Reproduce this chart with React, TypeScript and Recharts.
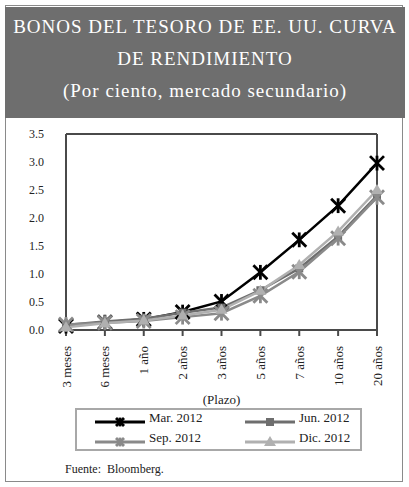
import { LineChart, Line, XAxis, YAxis, ReferenceLine, Legend, Label } from 'recharts'

const terms = ['3 meses', '6 meses', '1 año', '2 años', '3 años', '5 años', '7 años', '10 años', '20 años']
const mar2012 = [0.07, 0.14, 0.19, 0.32, 0.51, 1.03, 1.61, 2.22, 2.98]
const jun2012 = [0.09, 0.15, 0.2, 0.31, 0.4, 0.71, 1.1, 1.67, 2.4]
const sep2012 = [0.1, 0.13, 0.16, 0.23, 0.3, 0.61, 1.04, 1.64, 2.37]
const dic2012 = [0.05, 0.12, 0.17, 0.26, 0.36, 0.7, 1.16, 1.76, 2.5]
const yTicks = [0, 0.5, 1, 1.5, 2, 2.5, 3, 3.5]

const data = terms.map((t, i) => ({ term: t, mar: mar2012[i], jun: jun2012[i], sep: sep2012[i], dic: dic2012[i] }))

const serif = 'Liberation Serif'
const axisColor = '#4a4a4a'

const series = [
  { key: 'mar', name: 'Mar. 2012', color: '#000000', shape: 'star' },
  { key: 'jun', name: 'Jun. 2012', color: '#6e6e6e', shape: 'square' },
  { key: 'sep', name: 'Sep. 2012', color: '#8a8a8a', shape: 'star' },
  { key: 'dic', name: 'Dic. 2012', color: '#b0b0b0', shape: 'triangle' },
]

function Marker({ cx, cy, color, shape, r = 6 }: any) {
  if (cx == null || cy == null) return null
  if (shape === 'square') {
    return <rect x={cx - 4} y={cy - 4} width={8} height={8} fill={color} />
  }
  if (shape === 'triangle') {
    return <polygon points={`${cx},${cy - 6} ${cx + 6},${cy + 4} ${cx - 6},${cy + 4}`} fill={color} />
  }
  return (
    <g stroke={color} strokeWidth={2.8} strokeLinecap="square">
      <line x1={cx - r} y1={cy - r} x2={cx + r} y2={cy + r} />
      <line x1={cx - r} y1={cy + r} x2={cx + r} y2={cy - r} />
      <line x1={cx} y1={cy - r} x2={cx} y2={cy + r} />
    </g>
  )
}

function TermTick({ x, y, payload }: any) {
  return (
    <text x={x} y={y + 8} transform={`rotate(-90, ${x}, ${y + 8})`} textAnchor="end" dominantBaseline="central" fontSize={13} fontFamily={serif} fill="#222">
      {payload.value}
    </text>
  )
}

function LegendBox() {
  return (
    <div style={{ width: 283, height: 39, border: '2px solid #a8a8a8', fontFamily: serif, fontSize: 13, color: '#222', position: 'relative' }}>
      {series.map((s, i) => {
        const col = i % 2
        const row = Math.floor(i / 2)
        return (
          <div key={s.key} style={{ position: 'absolute', left: col === 0 ? 18 : 168, top: row === 0 ? 0 : 20, height: 20, display: 'flex', alignItems: 'center' }}>
            <svg width={50} height={20}>
              <line x1={0} y1={12} x2={50} y2={12} stroke={s.color} strokeWidth={3} />
              <Marker cx={25} cy={12} color={s.color} shape={s.shape} r={3} />
            </svg>
            <span style={{ marginLeft: 4, marginTop: -4 }}>{s.name}</span>
          </div>
        )
      })}
    </div>
  )
}

export default function App() {
  return (
    <div style={{ position: 'absolute', left: 0, top: 0, width: 409, height: 487, background: '#fff' }}>
      <div style={{ position: 'absolute', left: 5, top: 5, width: 396, height: 475, border: '1.5px solid #8a8a8a' }} />
      <div style={{ position: 'absolute', left: 5, top: 7, width: 400, height: 111, background: '#6e6e6e', color: '#fff', fontFamily: serif, fontSize: 19, lineHeight: '32px', textAlign: 'center', letterSpacing: 1, paddingTop: 4, boxSizing: 'border-box' }}>
        <div>BONOS DEL TESORO DE EE. UU. CURVA</div>
        <div>DE RENDIMIENTO</div>
        <div>(Por ciento, mercado secundario)</div>
      </div>
      <div style={{ position: 'absolute', left: 0, top: 0 }}>
        <LineChart width={409} height={487} data={data} margin={{ top: 134, right: 32, bottom: 87, left: 0 }}>
          <XAxis dataKey="term" interval={0} height={70} tick={<TermTick />} tickSize={6} tickLine={{ stroke: axisColor, strokeWidth: 2 }} axisLine={{ stroke: axisColor, strokeWidth: 2 }}>
            <Label value="(Plazo)" position="insideBottom" offset={-4} fontSize={13} fontFamily={serif} fill="#222" />
          </XAxis>
          <YAxis domain={[0, 3.5]} ticks={yTicks} width={66} tickSize={0} tickMargin={22} tickLine={false} axisLine={{ stroke: axisColor, strokeWidth: 2 }} tickFormatter={(v) => v.toFixed(1)} tick={{ fontSize: 12, fontFamily: serif, fill: '#222' }} />
          <ReferenceLine y={3.5} stroke={axisColor} strokeWidth={2} />
          <ReferenceLine x="20 años" stroke={axisColor} strokeWidth={2} />
          {series.map((s) => (
            <Line key={s.key} type="linear" dataKey={s.key} name={s.name} stroke={s.color} strokeWidth={2.5} isAnimationActive={false}
              dot={(p: any) => <Marker key={`${s.key}-${p.index}`} cx={p.cx} cy={p.cy} color={s.color} shape={s.shape} />} activeDot={false} />
          ))}
          <Legend layout="horizontal" verticalAlign="middle" align="center" content={<LegendBox />} wrapperStyle={{ position: 'absolute', left: 75, top: 408, width: 287, height: 43 }} />
        </LineChart>
      </div>
      <div style={{ position: 'absolute', left: 65, top: 462, fontFamily: serif, fontSize: 12, color: '#222' }}>Fuente:&nbsp; Bloomberg.</div>
    </div>
  )
}
